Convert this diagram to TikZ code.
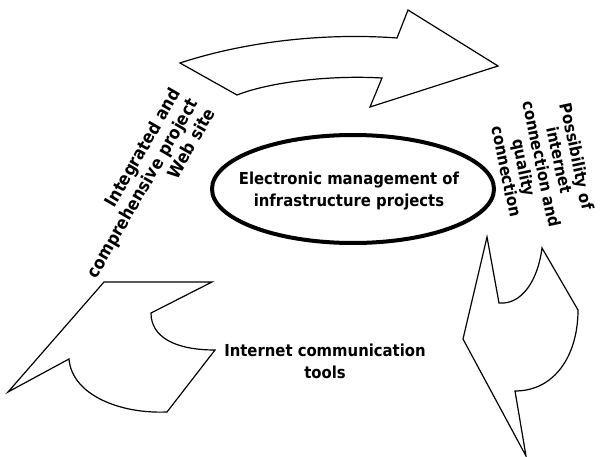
\documentclass[tikz,border=0pt]{standalone}
\usepackage{fontspec}
\setmainfont{DejaVu Sans Condensed}
\begin{document}
\begin{tikzpicture}[x=1pt,y=-1pt,
  arrowshape/.style={draw=black,line width=1.2pt,fill=white,line join=miter},
  lbl/.style={font=\fontsize{16.5}{22}\selectfont\bfseries,align=center,inner sep=0pt}]
\useasboundingbox (0,0) rectangle (602,457);
% top arrow
\draw[arrowshape] (180,63) .. controls (250,40) and (330,33) .. (397,38) -- (408,10) -- (498,66) -- (370,107) -- (382,78) .. controls (330,75) and (270,82) .. (237,95) -- cycle;
% left arrow
\draw[arrowshape] (104,282) -- (212,282) -- (151,313) .. controls (151,337) and (175,350) .. (215,350) -- (167,412) .. controls (120,414) and (72,395) .. (69,359) -- (8,392) -- cycle;
% right arrow
\draw[arrowshape] (487,237) -- (499,303) .. controls (522,305) and (538,280) .. (542,248) -- (578,310) .. controls (578,355) and (555,391) .. (515,391) -- (526,456) -- (463,339) -- cycle;
% ellipse
\draw[line width=4pt] (353,189) ellipse [x radius=141, y radius=54];
\node[lbl] (center) at (349,191) {Electronic management of\\infrastructure projects};
\node[lbl] (tools) at (325,361) {Internet communication\\tools};
\node[lbl,rotate=60,align=right,font=\fontsize{17.5}{20}\selectfont\bfseries] (web) at (142,188) {Integrated and\\comprehensive project\\Web site};
\node[lbl,rotate=-78,font=\fontsize{16.5}{18}\selectfont\bfseries] (poss) at (542,164) {Possibility of\\internet\\connection and\\quality\\connection};
\end{tikzpicture}
\end{document}
